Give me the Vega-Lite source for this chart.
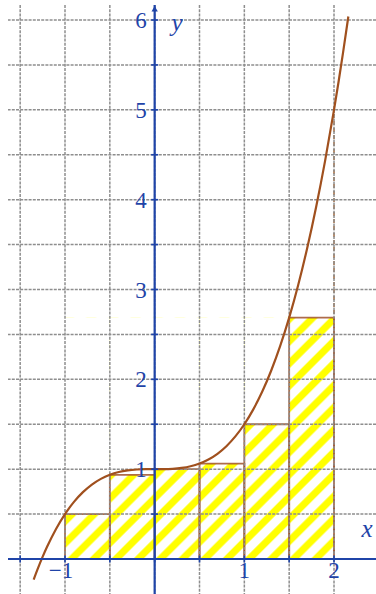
{
  "$schema": "https://vega.github.io/schema/vega-lite/v6.json",
  "width": 368,
  "height": 589,
  "autosize": {"type": "none"},
  "padding": {"left": 8, "top": 5, "right": 0, "bottom": 0},
  "background": "white",
  "config": {"view": {"stroke": null}, "axis": {"disable": true}},
  "data": {"values": [{"one": 1}]},
  "datasets": {
    "region": [{"x": -1, "x2": 2, "y": 0, "y2": 2.6875}],
    "bars": [
      {"x": -1, "x2": -0.5, "h": 0.5},
      {"x": -0.5, "x2": 0, "h": 0.9375},
      {"x": 0, "x2": 0.5, "h": 1},
      {"x": 0.5, "x2": 1, "h": 1.0625},
      {"x": 1, "x2": 1.5, "h": 1.5},
      {"x": 1.5, "x2": 2, "h": 2.6875}
    ],
    "gx": [{"v": -1.5}, {"v": -1}, {"v": -0.5}, {"v": 0}, {"v": 0.5}, {"v": 1}, {"v": 1.5}, {"v": 2}],
    "gy": [{"v": 0.5}, {"v": 1}, {"v": 1.5}, {"v": 2}, {"v": 2.5}, {"v": 3}, {"v": 3.5}, {"v": 4}, {"v": 4.5}, {"v": 5}, {"v": 5.5}, {"v": 6}],
    "ylabels": [{"v": 1, "t": "1"}, {"v": 2, "t": "2"}, {"v": 3, "t": "3"}, {"v": 4, "t": "4"}, {"v": 5, "t": "5"}, {"v": 6, "t": "6"}],
    "xlabels": [{"v": 1, "t": "1"}, {"v": 2, "t": "2"}],
    "curve": [
      {"x": -1.35, "y": -0.2302},
      {"x": -1.3, "y": -0.0985},
      {"x": -1.25, "y": 0.0234},
      {"x": -1.2, "y": 0.136},
      {"x": -1.1, "y": 0.3345},
      {"x": -1.0, "y": 0.5},
      {"x": -0.9, "y": 0.6355},
      {"x": -0.8, "y": 0.744},
      {"x": -0.7, "y": 0.8285},
      {"x": -0.6, "y": 0.892},
      {"x": -0.5, "y": 0.9375},
      {"x": -0.4, "y": 0.968},
      {"x": -0.3, "y": 0.9865},
      {"x": -0.2, "y": 0.996},
      {"x": -0.1, "y": 0.9995},
      {"x": 0, "y": 1},
      {"x": 0.1, "y": 1.0005},
      {"x": 0.2, "y": 1.004},
      {"x": 0.3, "y": 1.0135},
      {"x": 0.4, "y": 1.032},
      {"x": 0.5, "y": 1.0625},
      {"x": 0.6, "y": 1.108},
      {"x": 0.7, "y": 1.1715},
      {"x": 0.8, "y": 1.256},
      {"x": 0.9, "y": 1.3645},
      {"x": 1.0, "y": 1.5},
      {"x": 1.1, "y": 1.6655},
      {"x": 1.2, "y": 1.864},
      {"x": 1.3, "y": 2.0985},
      {"x": 1.4, "y": 2.372},
      {"x": 1.5, "y": 2.6875},
      {"x": 1.6, "y": 3.048},
      {"x": 1.7, "y": 3.4565},
      {"x": 1.8, "y": 3.916},
      {"x": 1.9, "y": 4.4295},
      {"x": 2.0, "y": 5},
      {"x": 2.05, "y": 5.3076},
      {"x": 2.1, "y": 5.6305},
      {"x": 2.16, "y": 6.039}
    ]
  },
  "layer": [
    {
      "data": {"name": "region"},
      "mark": {
        "type": "rect",
        "strokeWidth": 0,
        "fill": {
          "gradient": "linear",
          "x1": 0, "y1": 0, "x2": 1.051, "y2": 0.9431,
          "stops": [
            {"offset": 0, "color": "#ffff00"}, {"offset": 0.0152, "color": "#ffff00"}, {"offset": 0.0196, "color": "#ffffff"}, {"offset": 0.0391, "color": "#ffffff"},
            {"offset": 0.0435, "color": "#ffff00"}, {"offset": 0.0587, "color": "#ffff00"}, {"offset": 0.0630, "color": "#ffffff"}, {"offset": 0.0826, "color": "#ffffff"},
            {"offset": 0.0870, "color": "#ffff00"}, {"offset": 0.1022, "color": "#ffff00"}, {"offset": 0.1065, "color": "#ffffff"}, {"offset": 0.1261, "color": "#ffffff"},
            {"offset": 0.1304, "color": "#ffff00"}, {"offset": 0.1457, "color": "#ffff00"}, {"offset": 0.1500, "color": "#ffffff"}, {"offset": 0.1696, "color": "#ffffff"},
            {"offset": 0.1739, "color": "#ffff00"}, {"offset": 0.1891, "color": "#ffff00"}, {"offset": 0.1935, "color": "#ffffff"}, {"offset": 0.2130, "color": "#ffffff"},
            {"offset": 0.2174, "color": "#ffff00"}, {"offset": 0.2326, "color": "#ffff00"}, {"offset": 0.2370, "color": "#ffffff"}, {"offset": 0.2565, "color": "#ffffff"},
            {"offset": 0.2609, "color": "#ffff00"}, {"offset": 0.2761, "color": "#ffff00"}, {"offset": 0.2804, "color": "#ffffff"}, {"offset": 0.3000, "color": "#ffffff"},
            {"offset": 0.3043, "color": "#ffff00"}, {"offset": 0.3196, "color": "#ffff00"}, {"offset": 0.3239, "color": "#ffffff"}, {"offset": 0.3435, "color": "#ffffff"},
            {"offset": 0.3478, "color": "#ffff00"}, {"offset": 0.3630, "color": "#ffff00"}, {"offset": 0.3674, "color": "#ffffff"}, {"offset": 0.3870, "color": "#ffffff"},
            {"offset": 0.3913, "color": "#ffff00"}, {"offset": 0.4065, "color": "#ffff00"}, {"offset": 0.4109, "color": "#ffffff"}, {"offset": 0.4304, "color": "#ffffff"},
            {"offset": 0.4348, "color": "#ffff00"}, {"offset": 0.4500, "color": "#ffff00"}, {"offset": 0.4543, "color": "#ffffff"}, {"offset": 0.4739, "color": "#ffffff"},
            {"offset": 0.4783, "color": "#ffff00"}, {"offset": 0.4935, "color": "#ffff00"}, {"offset": 0.4978, "color": "#ffffff"}, {"offset": 0.5174, "color": "#ffffff"},
            {"offset": 0.5217, "color": "#ffff00"}, {"offset": 0.5370, "color": "#ffff00"}, {"offset": 0.5413, "color": "#ffffff"}, {"offset": 0.5609, "color": "#ffffff"},
            {"offset": 0.5652, "color": "#ffff00"}, {"offset": 0.5804, "color": "#ffff00"}, {"offset": 0.5848, "color": "#ffffff"}, {"offset": 0.6043, "color": "#ffffff"},
            {"offset": 0.6087, "color": "#ffff00"}, {"offset": 0.6239, "color": "#ffff00"}, {"offset": 0.6283, "color": "#ffffff"}, {"offset": 0.6478, "color": "#ffffff"},
            {"offset": 0.6522, "color": "#ffff00"}, {"offset": 0.6674, "color": "#ffff00"}, {"offset": 0.6717, "color": "#ffffff"}, {"offset": 0.6913, "color": "#ffffff"},
            {"offset": 0.6957, "color": "#ffff00"}, {"offset": 0.7109, "color": "#ffff00"}, {"offset": 0.7152, "color": "#ffffff"}, {"offset": 0.7348, "color": "#ffffff"},
            {"offset": 0.7391, "color": "#ffff00"}, {"offset": 0.7543, "color": "#ffff00"}, {"offset": 0.7587, "color": "#ffffff"}, {"offset": 0.7783, "color": "#ffffff"},
            {"offset": 0.7826, "color": "#ffff00"}, {"offset": 0.7978, "color": "#ffff00"}, {"offset": 0.8022, "color": "#ffffff"}, {"offset": 0.8217, "color": "#ffffff"},
            {"offset": 0.8261, "color": "#ffff00"}, {"offset": 0.8413, "color": "#ffff00"}, {"offset": 0.8457, "color": "#ffffff"}, {"offset": 0.8652, "color": "#ffffff"},
            {"offset": 0.8696, "color": "#ffff00"}, {"offset": 0.8848, "color": "#ffff00"}, {"offset": 0.8891, "color": "#ffffff"}, {"offset": 0.9087, "color": "#ffffff"},
            {"offset": 0.9130, "color": "#ffff00"}, {"offset": 0.9283, "color": "#ffff00"}, {"offset": 0.9326, "color": "#ffffff"}, {"offset": 0.9522, "color": "#ffffff"},
            {"offset": 0.9565, "color": "#ffff00"}, {"offset": 0.9717, "color": "#ffff00"}, {"offset": 0.9761, "color": "#ffffff"}, {"offset": 0.9957, "color": "#ffffff"},
            {"offset": 1, "color": "#ffff00"}
          ]
        }
      },
      "encoding": {
        "x": {"field": "x", "type": "quantitative", "scale": {"domain": [-1.6357, 2.4683], "nice": false, "zero": false}},
        "x2": {"field": "x2"},
        "y": {"field": "y", "type": "quantitative", "scale": {"domain": [-0.3896, 6.167], "nice": false, "zero": false}},
        "y2": {"field": "y2"}
      }
    },
    {
      "data": {"name": "bars"},
      "mark": {"type": "rect", "fill": "#ffffff", "strokeWidth": 0},
      "encoding": {
        "x": {"field": "x", "type": "quantitative"},
        "x2": {"field": "x2"},
        "y": {"field": "h", "type": "quantitative"},
        "y2": {"datum": 2.69}
      }
    },
    {
      "mark": {"type": "rule", "color": "#a86a3c", "strokeWidth": 1.5, "strokeDash": [4, 3]},
      "encoding": {
        "x": {"datum": 2, "type": "quantitative"},
        "y": {"datum": 0, "type": "quantitative"},
        "y2": {"datum": 5}
      }
    },
    {
      "data": {"name": "bars"},
      "mark": {"type": "rect", "fillOpacity": 0, "stroke": "#a0522d", "strokeOpacity": 0.85, "strokeWidth": 1.8},
      "encoding": {
        "x": {"field": "x", "type": "quantitative"},
        "x2": {"field": "x2"},
        "y": {"field": "h", "type": "quantitative"},
        "y2": {"datum": 0}
      }
    },
    {
      "data": {"name": "gx"},
      "mark": {"type": "rule", "color": "#8e8e8e", "strokeWidth": 1.5, "strokeDash": [3, 1.2]},
      "encoding": {"x": {"field": "v", "type": "quantitative"}}
    },
    {
      "data": {"name": "gy"},
      "mark": {"type": "rule", "color": "#8e8e8e", "strokeWidth": 1.5, "strokeDash": [3, 1.2]},
      "encoding": {"y": {"field": "v", "type": "quantitative"}}
    },
    {
      "data": {"name": "curve"},
      "mark": {"type": "line", "color": "#a0501e", "strokeWidth": 2.2, "interpolate": "monotone"},
      "encoding": {
        "x": {"field": "x", "type": "quantitative"},
        "y": {"field": "y", "type": "quantitative"}
      }
    },
    {
      "mark": {"type": "rule", "color": "#1f44a8", "strokeWidth": 2.2},
      "encoding": {"y": {"datum": 0, "type": "quantitative"}}
    },
    {
      "mark": {"type": "rule", "color": "#1f44a8", "strokeWidth": 2.2},
      "encoding": {"x": {"datum": 0, "type": "quantitative"}}
    },
    {
      "data": {"name": "gx"},
      "mark": {"type": "tick", "orient": "vertical", "size": 7, "thickness": 1.6, "color": "#1f44a8", "opacity": 1},
      "encoding": {
        "x": {"field": "v", "type": "quantitative"},
        "y": {"datum": 0, "type": "quantitative"}
      }
    },
    {
      "data": {"name": "gy"},
      "mark": {"type": "tick", "orient": "horizontal", "size": 7, "thickness": 1.6, "color": "#1f44a8", "opacity": 1},
      "encoding": {
        "y": {"field": "v", "type": "quantitative"},
        "x": {"datum": 0, "type": "quantitative"}
      }
    },
    {
      "mark": {"type": "point", "shape": "triangle-up", "filled": true, "color": "#1f44a8", "size": 40, "opacity": 1},
      "encoding": {
        "x": {"datum": 0, "type": "quantitative"},
        "y": {"datum": 6.125, "type": "quantitative"}
      }
    },
    {
      "data": {"name": "ylabels"},
      "mark": {"type": "text", "font": "Liberation Serif", "fontSize": 23, "color": "#1f44a8", "align": "right", "baseline": "middle", "dx": -8, "dy": 1},
      "encoding": {
        "y": {"field": "v", "type": "quantitative"},
        "x": {"datum": 0, "type": "quantitative"},
        "text": {"field": "t"}
      }
    },
    {
      "data": {"name": "xlabels"},
      "mark": {"type": "text", "font": "Liberation Serif", "fontSize": 23, "color": "#1f44a8", "align": "center", "baseline": "middle", "dy": 12},
      "encoding": {
        "x": {"field": "v", "type": "quantitative"},
        "y": {"datum": 0, "type": "quantitative"},
        "text": {"field": "t"}
      }
    },
    {
      "mark": {"type": "text", "font": "Liberation Serif", "fontSize": 23, "color": "#1f44a8", "align": "center", "baseline": "middle", "dy": 12, "dx": -4},
      "encoding": {
        "x": {"datum": -1, "type": "quantitative"},
        "y": {"datum": 0, "type": "quantitative"},
        "text": {"value": "−1"}
      }
    },
    {
      "mark": {"type": "text", "font": "Liberation Serif", "fontSize": 25, "fontStyle": "italic", "color": "#1f44a8", "align": "center", "baseline": "alphabetic"},
      "encoding": {
        "x": {"datum": 2.368, "type": "quantitative"},
        "y": {"datum": 0.245, "type": "quantitative"},
        "text": {"value": "x"}
      }
    },
    {
      "mark": {"type": "text", "font": "Liberation Serif", "fontSize": 25, "fontStyle": "italic", "color": "#1f44a8", "align": "center", "baseline": "alphabetic"},
      "encoding": {
        "x": {"datum": 0.25, "type": "quantitative"},
        "y": {"datum": 5.878, "type": "quantitative"},
        "text": {"value": "y"}
      }
    }
  ]
}
